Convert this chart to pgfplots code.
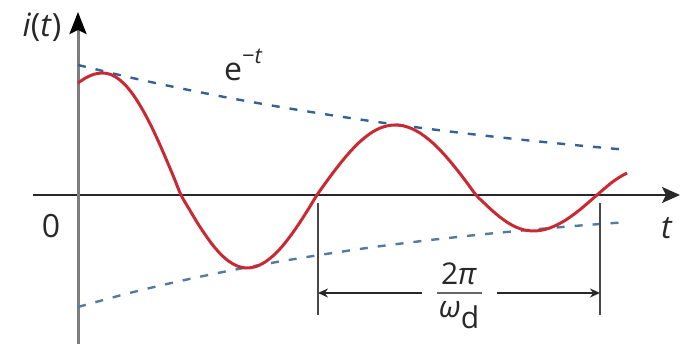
\documentclass[border=0pt]{standalone}
\usepackage{pgfplots}
\pgfplotsset{compat=1.18}
\usepackage{fontspec}
\setmainfont{Open Sans}
\usetikzlibrary{arrows.meta}

\definecolor{curvered}{RGB}{200,42,52}
\definecolor{envblue}{RGB}{52,98,148}
\definecolor{axisgray}{RGB}{125,125,125}
\definecolor{inkdark}{RGB}{40,40,40}

\begin{document}
\begin{tikzpicture}
\begin{axis}[
  x=0.5pt, y=0.5pt,
  xmin=-78, xmax=603, ymin=-149, ymax=195,
  hide axis, clip=false,
]
% frame of the figure
\path (axis cs:-78,-149) rectangle (axis cs:603,195);

% axes
\draw[inkdark, line width=1pt, -{Stealth[length=9pt,width=8pt,inset=2pt]}]
  (axis cs:-45,0) -- (axis cs:602,0);
\draw[axisgray, line width=1.5pt, -{Stealth[length=11pt,width=8.5pt,inset=2pt,color=black]}]
  (axis cs:0,-149) -- (axis cs:0,183);

% exponential envelopes
\addplot[envblue, line width=1.2pt, dash pattern=on 4pt off 5pt, smooth] coordinates {
  (0,130) (50,118.0) (100,107.2) (150,97.3) (200,88.4) (250,80.3)
  (300,72.9) (350,66.2) (400,60.1) (450,54.6) (500,49.6) (549,45.1)
};
\addplot[envblue!85, line width=1.2pt, dash pattern=on 4pt off 5pt, smooth] coordinates {
  (0,-112) (50,-98.4) (100,-86.5) (150,-76.0) (200,-66.8) (250,-58.7)
  (300,-51.5) (350,-45.3) (400,-39.8) (450,-35.0) (500,-30.7) (545,-27.4)
};

% damped response
\addplot[curvered, line width=1.5pt, smooth] coordinates {
  (0,112) (8,117.3) (16,120.7) (25,122)
  (33,120.4) (41,115.7) (49,108.1) (57,97.6) (65,84.5) (73,69.4)
  (81,52.3) (89,33.9) (96,17.2) (103,0)
  (111,-13.8) (119,-27.2) (127,-39.4) (135,-50.4) (143,-59.5) (151,-66.4)
  (160,-71.3) (169,-73)
  (178,-71.5) (187,-67.1) (196,-60.0) (205,-50.5) (214,-38.8) (222,-27.2)
  (231,-13.1) (239,0)
  (247,11.3) (255,22.2) (263,32.5) (271,42.0) (279,50.5) (287,57.6)
  (295,63.3) (303,67.3) (310,69.3) (317,70)
  (325,69.2) (333,66.7) (341,62.6) (349,56.9) (357,50.0) (365,41.8)
  (373,32.6) (381,22.7) (389,12.2) (398,0)
  (406,-7.9) (414,-15.4) (422,-22.1) (430,-27.8) (438,-32.1) (446,-34.9)
  (455,-36)
  (463,-35.3) (471,-33.3) (479,-29.9) (487,-25.5) (495,-20.0) (503,-13.8)
  (511,-7.0) (519,0)
  (527,6.9) (535,13.4) (542,18.1) (549,22)
};

% period dimension
\draw[inkdark!85, line width=1.3pt] (axis cs:240,-8) -- (axis cs:240,-120);
\draw[inkdark!85, line width=1.3pt] (axis cs:522,-8) -- (axis cs:522,-120);
\draw[inkdark, line width=1pt, {Stealth[length=5pt,width=4.5pt]}-]
  (axis cs:240,-98) -- (axis cs:344,-98);
\draw[inkdark, line width=1pt, -{Stealth[length=5pt,width=4.5pt]}]
  (axis cs:419,-98) -- (axis cs:522,-98);
\draw[axisgray!80!black, line width=1.4pt] (axis cs:359,-98) -- (axis cs:404,-98);
\node[inkdark, font=\fontsize{15}{18}\selectfont, anchor=base] at (axis cs:381,-90) {2\textit{π}};
\node[inkdark, font=\fontsize{15}{18}\selectfont, anchor=center] at (axis cs:381,-120) {\textit{ω}\raisebox{-0.35em}{d}};

% labels
\node[inkdark, font=\fontsize{16}{18}\selectfont] at (axis cs:-36,168) {\textit{i}(\textit{t})};
\node[inkdark, font=\fontsize{16}{18}\selectfont, anchor=base west] at (axis cs:139,114) {e\raisebox{0.55em}{\fontsize{11}{12}\selectfont −\textit{t}}};
\node[inkdark, font=\fontsize{16}{18}\selectfont] at (axis cs:-27,-31) {0};
\node[inkdark, font=\fontsize{16}{18}\selectfont] at (axis cs:589,-33) {\textit{t}};
\end{axis}
\end{tikzpicture}
\end{document}
